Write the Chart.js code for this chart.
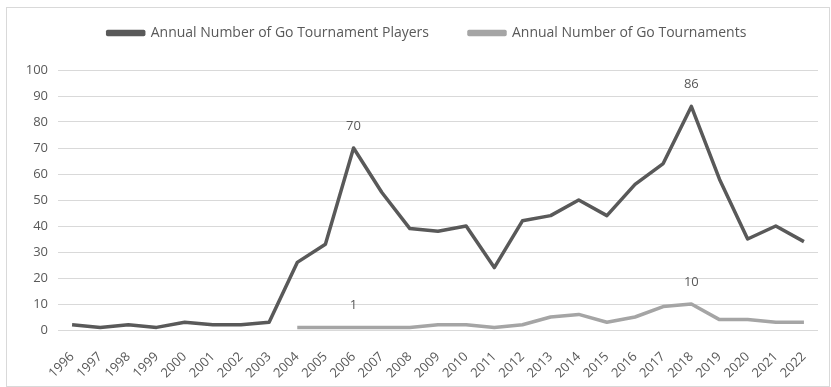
<!DOCTYPE html>
<html>
<head>
<meta charset="utf-8">
<script src="https://cdn.jsdelivr.net/npm/chart.js@4"></script>
<style>
  html, body { margin: 0; padding: 0; background: #fff; }
  #wrap { position: relative; width: 831px; height: 387px; }
  #frame { position: absolute; left: 6px; top: 7px; width: 822px; height: 378px; border: 1px solid #d9d9d9; }
  canvas { position: absolute; left: 0; top: 0; }
</style>
</head>
<body>
<div id="wrap">
  <div id="frame"></div>
  <canvas id="chart" width="831" height="387"></canvas>
</div>
<script>
// years on the x axis
const years = [
    "1996", "1997", "1998", "1999", "2000", "2001", "2002", "2003", "2004",
    "2005", "2006", "2007", "2008", "2009", "2010", "2011", "2012", "2013",
    "2014", "2015", "2016", "2017", "2018", "2019", "2020", "2021", "2022"
];

const players = [
    2, 1, 2, 1, 3, 2, 2, 3, 26,
    33, 70, 53, 39, 38, 40, 24, 42, 44,
    50, 44, 56, 64, 86, 58, 35, 40, 34
];

// no tournaments recorded before 2004
const tournaments = [
    null, null, null, null, null, null, null, null, 1,
    1, 1, 1, 1, 2, 2, 1, 2, 5,
    6, 3, 5, 9, 10, 4, 4, 3, 3
];

const yTicks = [0, 10, 20, 30, 40, 50, 60, 70, 80, 90, 100];

// which points get a value label: [dataset index, point index]
const labelled = [[0, 10], [0, 22], [1, 10], [1, 22]];

const textColor = "#595959";
const fontFamily = "'Open Sans', sans-serif";

const valueLabels = {
    id: "valueLabels",
    afterDatasetsDraw(chart) {
        const ctx = chart.ctx;
        ctx.save();
        ctx.fillStyle = textColor;
        ctx.font = "13px " + fontFamily;
        ctx.textAlign = "center";
        ctx.textBaseline = "middle";
        labelled.forEach(([d, i]) => {
            const pt = chart.getDatasetMeta(d).data[i];
            const v = chart.data.datasets[d].data[i];
            ctx.fillText(String(v), pt.x, pt.y - 22);
        });
        ctx.restore();
    }
};

// legend: wide gap between items, but sit it higher and a bit right
const legendTweak = {
    id: "legendTweak",
    afterLayout(chart) {
        const lg = chart.legend;
        lg.left += 18;
        lg.right += 18;
        lg.top -= 20;
        lg.bottom -= 20;
    }
};

new Chart(document.getElementById("chart"), {
    type: "line",

    data: {
        labels: years,

        datasets: [
            {
                label: "Annual Number of Go Tournament Players",
                data: players,
                borderColor: "#595959",
                backgroundColor: "#595959",
                borderWidth: 3.5,
                pointRadius: 0,
                tension: 0
            },
            {
                label: "Annual Number of Go Tournaments",
                data: tournaments,
                borderColor: "#a5a5a5",
                backgroundColor: "#a5a5a5",
                borderWidth: 3.5,
                pointRadius: 0,
                tension: 0
            }
        ]
    },

    options: {
        responsive: false,
        animation: false,
        borderJoinStyle: "round",

        layout: {
            padding: { left: 0, right: 13, top: 6, bottom: 0 }
        },

        plugins: {
            tooltip: { enabled: false },
            legend: {
                position: "top",
                labels: {
                    color: textColor,
                    font: { family: fontFamily, size: 14 },
                    boxWidth: 36,
                    boxHeight: 3,
                    padding: 40
                }
            }
        },

        scales: {
            x: {
                offset: true,
                grid: { display: false },
                border: { display: false },
                afterFit(scale) { scale.height = 57; },
                ticks: {
                    color: textColor,
                    font: { family: fontFamily, size: 13 },
                    maxRotation: 45,
                    minRotation: 45,
                    autoSkip: false,
                    padding: 11
                }
            },

            y: {
                min: 0,
                max: 100,
                afterFit(scale) { scale.width = 58; },
                afterBuildTicks(scale) {
                    scale.ticks = yTicks.map(v => ({ value: v }));
                },
                grid: { color: "#d9d9d9", lineWidth: 1, drawTicks: false },
                border: { display: false },
                ticks: {
                    color: textColor,
                    font: { family: fontFamily, size: 13 },
                    padding: 10
                }
            }
        }
    },

    plugins: [valueLabels, legendTweak]
});
</script>
</body>
</html>
